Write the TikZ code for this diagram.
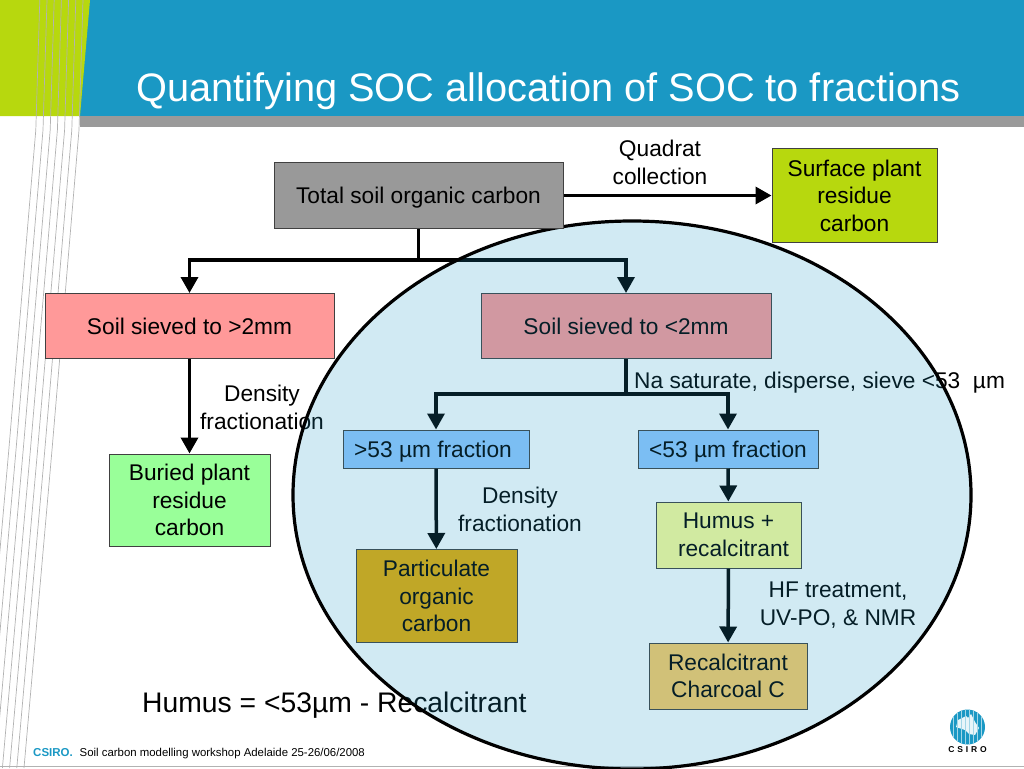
\documentclass[tikz,border=0pt]{standalone}
\usepackage{xcolor}
\usepackage{fontspec}
\setmainfont{Liberation Sans}
\usepackage{tikz}
\usetikzlibrary{positioning,arrows.meta}
\definecolor{csiroblue}{HTML}{1A98C4}
\definecolor{csirolime}{HTML}{B7D80E}
\definecolor{bandgray}{HTML}{9A9A9A}
\pgfdeclarelayer{front}
\pgfsetlayers{main,front}
\tikzset{
  box/.style={draw=black!75,line width=1pt,inner sep=0pt,align=center,font=\fontsize{22.7}{27.5}\selectfont},
  lbl/.style={inner sep=0pt,align=center,font=\fontsize{22.7}{27.5}\selectfont},
  oneline/.style={text height=16.5pt,text depth=0pt},
  flow/.style={line width=3.5pt,-{Triangle[width=17pt,length=16pt]}},
  link/.style={line width=3.5pt}
}

\begin{document}
\begin{tikzpicture}[x=1pt,y=-1pt]
\useasboundingbox (0,0) rectangle (1024,768);
% header
\fill[csiroblue] (80,0) rectangle (1024,116);
\fill[bandgray] (80,116) rectangle (1024,127);
\fill[csirolime] (0,0) -- (90,0) -- (80,116) -- (0,116) -- cycle;
\foreach \dx in {0,...,6}
  \draw[black!30,line width=0.7pt,xshift=-\dx*7.2pt] (83,0) -- (79,130) -- (52,450) -- (24,768);
\draw[black!30,line width=0.8pt] (0,766) -- (1024,766);
\node (title) [anchor=base west,inner sep=0pt,text=white,font=\fontsize{39.75}{48}\selectfont] at (136,101)
  {Quantifying SOC allocation of SOC to fractions};
% boxes
\begin{pgfonlayer}{front}
\node (total) [box,oneline,fill=black!40,minimum width=289pt,minimum height=66pt] at (418.5,195.5) {Total soil organic carbon};
\end{pgfonlayer}
\node (surface) [box,fill=csirolime,minimum width=165pt,minimum height=94pt] at (854.5,195.5) {Surface plant\\residue\\carbon};
\node (soilbig) [box,oneline,fill={rgb,255:red,255;green,153;blue,153},minimum width=289pt,minimum height=65pt] at (189.5,326) {Soil sieved to >2mm};
\node (soilfine) [box,oneline,fill={rgb,255:red,255;green,153;blue,153},minimum width=290pt,minimum height=65pt] at (626,326) {Soil sieved to <2mm};
\node (buried) [box,fill={rgb,255:red,153;green,255;blue,153},minimum width=161pt,minimum height=92pt] at (189.5,500) {Buried plant\\residue\\carbon};
\node (fracbig) [box,oneline,fill={rgb,255:red,148;green,200;blue,255},minimum width=186pt,minimum height=38pt] at (436,449) {>53 µm fraction\hspace*{6pt}};
\node (fracfine) [box,oneline,fill={rgb,255:red,148;green,200;blue,255},minimum width=180pt,minimum height=38pt] at (728,449) {<53 µm fraction};
\node (partic) [box,fill={rgb,255:red,234;green,171;blue,0},minimum width=161pt,minimum height=93pt] at (436.5,596) {Particulate\\organic\\carbon};
\node (humus) [box,fill={rgb,255:red,255;green,255;blue,153},minimum width=145pt,minimum height=66pt] at (728.5,535) {Humus +\\\hspace*{10pt}recalcitrant};
\node (recalc) [box,fill={rgb,255:red,255;green,204;blue,102},minimum width=158pt,minimum height=66pt] at (728,676) {Recalcitrant\\Charcoal C};
% connectors
\coordinate (jn1) at (418.5,260);
\coordinate (jn2) at (626,394);
\draw[flow] (total) -- (surface);
\draw[link] (total) -- (jn1);
\draw[flow] (jn1) -| (soilbig);
\draw[flow] (jn1) -| (soilfine);
\draw[flow] (soilbig) -- (buried);
\draw[link] (soilfine) -- (jn2);
\draw[flow] (jn2) -| (fracbig);
\draw[flow] (jn2) -| (fracfine);
\draw[flow] (fracbig) -- (partic);
\draw[flow] (fracfine) -- (humus);
\draw[flow] (humus) -- (recalc);
% labels
\node (quadrat) [lbl] at (660,162.5) {Quadrat\\collection};
\node (dens1) [lbl] at (262,407.5) {Density\\fractionation};
\node (dens2) [lbl] at (520,509.5) {Density\\fractionation};
\node (natxt) [lbl,oneline,anchor=west] at (634,380) {Na saturate, disperse, sieve <53~ µm};
\node (hftxt) [lbl] at (838,605) {HF treatment,\\UV-PO, \& NMR};
\node (humtxt) [inner sep=0pt,anchor=base west,font=\fontsize{28.3}{32}\selectfont] at (142,712) {Humus = <53µm - Recalcitrant};
% footer
\node (csirotxt) [inner sep=0pt,anchor=base west,text=csiroblue,font=\fontsize{11.5}{14}\bfseries\selectfont] at (33,756) {CSIRO.};
\node (foottxt) [inner sep=0pt,anchor=base west,font=\fontsize{11.4}{14}\selectfont] at (79.5,756) {Soil carbon modelling workshop Adelaide 25-26/06/2008};
% logo
\fill[csiroblue] (967.5,727) circle [radius=17.5pt];
\begin{scope}
  \clip (967.5,727) circle [radius=17.5pt];
  \fill[white!90!csiroblue] (956,727) -- (958,720) -- (966,716) -- (968,718) -- (971,714) -- (975,722) -- (979,728) -- (975,735) -- (969,734) -- (965,730) -- cycle;
  \foreach \sx in {-14,-10,...,14}
    \draw[white!60!csiroblue,line width=0.6pt] (967.5+\sx,705) -- (967.5+\sx,750);
\end{scope}
\node (logotxt) [inner sep=0pt,font=\fontsize{8.5}{10}\bfseries\selectfont] at (967.5,749.5) {C\,\,S\,\,I\,\,R\,\,O};
% the big ellipse lies over everything
\draw[line width=3.2pt,fill=csiroblue,fill opacity=0.2] (632,495) ellipse [x radius=339pt,y radius=274pt];
\end{tikzpicture}
\end{document}
